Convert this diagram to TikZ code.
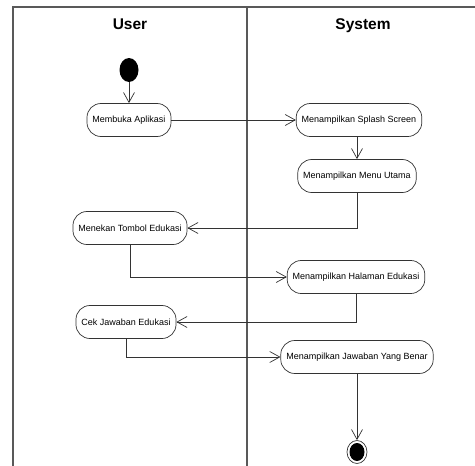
\documentclass[tikz,border=0pt]{standalone}
\usepackage{fontspec}
\setmainfont{Liberation Sans}
\usetikzlibrary{arrows.meta, shapes.geometric}

\tikzset{
  lane/.style={line width=1.1pt, black!65},
  act/.style={draw=black!80, line width=0.7pt, rounded corners=14pt,
    minimum height=33pt, inner xsep=5.5pt, font=\fontsize{9}{10}\selectfont},
  flow/.style={draw=black!80, line width=0.7pt,
    -{Straight Barb[length=10pt, width=11pt, line width=0.7pt]}},
  lanetitle/.style={anchor=base, font=\fontsize{15.5}{17}\selectfont\bfseries}
}

\begin{document}
\begin{tikzpicture}[x=1pt, y=-1pt]
\useasboundingbox (0,0) rectangle (475,466);
% swimlanes
\draw[lane] (13,466) -- (13,7) -- (475,7);
\draw[lane] (247,7) -- (247,466);
\node[lanetitle] (user) at (130,29) {User};
\node[lanetitle] (system) at (363,29) {System};
% start and end
\node[ellipse, fill=black, minimum width=19pt, minimum height=24pt, inner sep=0pt] (start) at (129,70) {};
\node[ellipse, draw=black!80, line width=0.7pt, minimum width=20pt, minimum height=23pt, inner sep=0pt] (stop) at (357,452) {};
\fill (stop) ellipse (7.5 and 9);
% activities
\node[act] (buka) at (129,120) {Membuka Aplikasi};
\node[act] (splash) at (359,120) {Menampilkan Splash Screen};
\node[act] (menu) at (357,176) {Menampilkan Menu Utama};
\node[act] (tombol) at (130,228) {Menekan Tombol Edukasi};
\node[act] (halaman) at (356,277) {Menampilkan Halaman Edukasi};
\node[act] (cek) at (126,322) {Cek Jawaban Edukasi};
\node[act] (benar) at (357,357) {Menampilkan Jawaban Yang Benar};
% flows
\draw[flow] (start) -- (buka);
\draw[flow] (buka) -- (splash);
\draw[flow] (menu.north |- splash.south) -- (menu);
\draw[flow] (menu.south) |- (tombol.east);
\draw[flow] (tombol.south) |- (halaman.west);
\draw[flow] (halaman.south) |- (cek.east);
\draw[flow] (cek.south) |- (benar.west);
\draw[flow] (benar) -- (stop);
\end{tikzpicture}
\end{document}
